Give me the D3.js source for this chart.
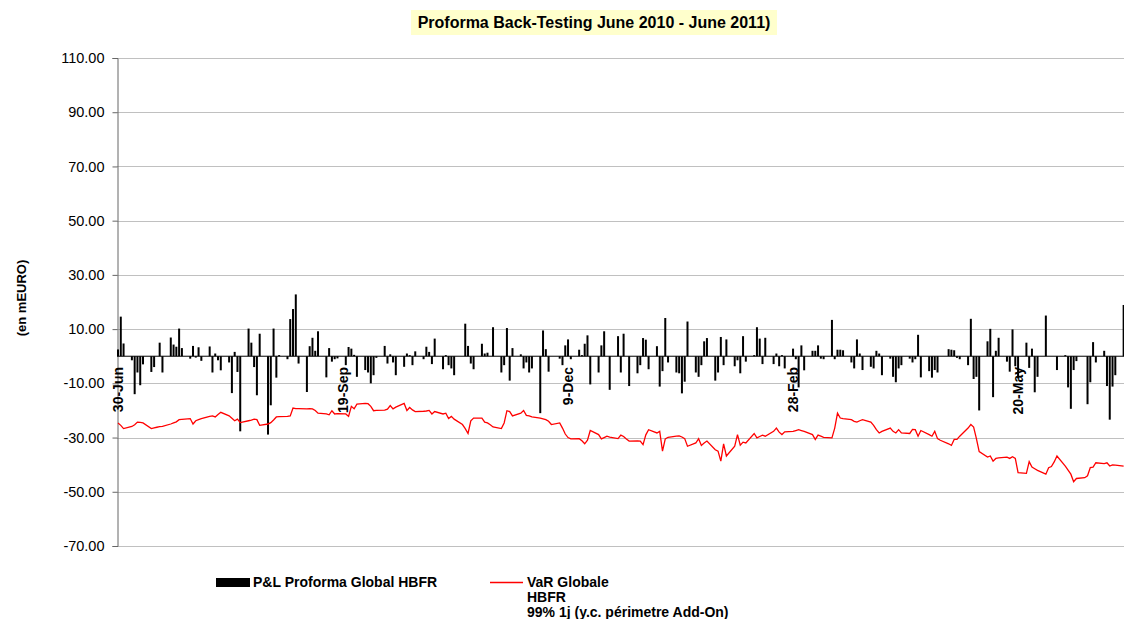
<!DOCTYPE html>
<meta charset="utf-8">
<style>
body { margin: 0; background: #fff; }
text { font-family: "Liberation Sans", Arial, sans-serif; }
.grid line { stroke: #c0c0c0; stroke-width: 1px; }
.var { fill: none; stroke: #ff0000; stroke-width: 1.3px; }
</style>
<body>
<script src="https://d3js.org/d3.v7.min.js"></script>
<script>

// first trading day, weekends are skipped when building the dates
var startDay = "2010-06-30";

// daily P&L (mEUR), one value per business day, week by week
var pnl = [
  2.5, 14.6, 4.7,
  -1.5, -14, -6, -10.7, -3,
  -5.8, -4, 0, 5, -6,
  6.9, 4.3, 3.5, 10.2, 3,
  -0.9, 3.8, -0.5, 3.3, -1.7,
  3.6, -6, 1, -1.5, -5.2,
  -2.3, -13.6, 1.6, -5.8, -27.7,
  10.2, 5, -4, -14.4, 8.3,
  -28.9, -18.1, 10.2, -7.9, 0.4,
  -1.1, 13.7, 17.4, 22.8, -2.7,
  -13.2, 3.7, 6.8, 2, 9.2,
  -7.8, 3, -2, -1.1, -0.8,
  -3.3, 3.4, 2.8, 0.5, -7.6,
  -5.1, -6, -10, -7, -0.6,
  3.8, -2.7, 0.7, -2.3, -7,
  -3.9, 1, 0.4, -3.3, 1.8,
  -1.1, 3.5, 1.6, -2.9, 6.5,
  -4.8, 0.4, -3.3, -4.5, -7,
  0, 12, 3.8, -2.7, -4.8,
  4.6, 1, 1.3, 0, 10.7,
  -6, -3.3, 10.4, -9, 3,
  0.7, -4.5, -2.3, -6, -4.5,
  -21, 9.5, 2.6, -5.7, 0,
  -0.9, -3.3, 4, 6.2, -1.1,
  2.4, 0.4, 4.6, 7.7, -10.4,
  -6, 4, 9.2, 0, -12.4,
  7.4, -6, 8.3, 0, -11,
  -6.3, -3.3, 6.7, 6.1, -4.8,
  3.7, -11.2, -5.5, 14.1, -2.3,
  -6, -6.3, -13.7, -9.4, 12.8,
  -6, -7.6, -3.3, 5.5, 6.7,
  -9, -6, 7.1, -3.3, 6.2,
  -3.7, -1.5, -6.3, 7.4, -2,
  0.4, 10.7, 6.5, -2.9, 6.8,
  -2.9, 1, -3.7, 0.4, -4.5,
  2.8, -1.1, -11.5, 4, -5.2,
  2, 2, 4, -0.9, -1.1,
  13.4, -1.1, 2.4, 2.4, 2.2,
  -2.3, -4.5, 6.2, 1, -5.1,
  -3.9, -4.5, 2, 1, -7,
  -0.9, -7.6, -9.6, -4.5, -3.3,
  -0.9, -2.3, -1.1, 7.9, -7.8,
  -5.5, -7.9, -5.1, -6, 0,
  2.6, 2.4, 2.2, -0.6, -1.1,
  -3.3, 13.8, -8.4, -7.6, -20,
  5.5, 10.1, -15.1, 2, 6.8,
  -2, -5.7, 9.9, -3.7, -8.2,
  5, -4.3, 2.8, -13.3, -7.6,
  15, 0, 0, 0, -5.1,
  0.4, -11.5, -19.4, -5.1, -1.8,
  0, -17.7, -9.6, 5.2, -2.3,
  2, -11, -23.4, -11.2, -7,
  18.9
];

// VaR 99% 1 day
var varGlobale = [
  -24.6, -25.5, -26.7,
  -25.9, -25.3, -24.3, -24.4, -24.6,
  -26.7, -26.4, -26.2, -26.0, -25.9,
  -25.0, -24.6, -24.2, -23.4, -23.3,
  -23.0, -25.0, -23.8, -23.4, -23.0,
  -22.2, -22.0, -22.4, -21.5, -20.7,
  -22.0, -22.9, -23.8, -23.2, -24.5,
  -23.8, -23.6, -23.2, -23.4, -25.5,
  -25.0, -24.5, -23.5, -22.4, -22.3,
  -22.2, -22.0, -19.1, -19.3, -19.3,
  -19.4, -19.3, -19.4, -20.0, -21.0,
  -21.3, -21.6, -20.1, -21.3, -21.2,
  -21.3, -22.2, -18.5, -19.4, -17.7,
  -17.4, -17.5, -18.5, -20.1, -20.0,
  -19.9, -19.5, -18.2, -19.4, -18.8,
  -17.4, -20.0, -18.9, -19.8, -20.4,
  -20.3, -20.2, -20.0, -21.3, -20.4,
  -21.3, -21.0, -23.0, -22.2, -23.2,
  -25.2, -26.7, -28.5, -23.8, -22.8,
  -22.8, -24.3, -24.6, -25.3, -26.1,
  -26.7, -24.6, -20.1, -20.4, -22.0,
  -21.0, -20.0, -21.8, -22.0, -22.4,
  -22.8, -23.1, -23.4, -24.0, -25.2,
  -24.6, -26.5, -28.7, -30.0, -30.5,
  -30.4, -31.2, -32.3, -31.0, -27.4,
  -28.9, -30.5, -30.0, -29.5, -29.8,
  -30.4, -29.1, -29.6, -30.5, -31.3,
  -31.2, -31.3, -32.6, -29.0, -27.1,
  -28.3, -27.7, -35.0, -30.5, -29.9,
  -29.5, -29.4, -29.8, -30.4, -33.2,
  -32.0, -30.4, -32.9, -32.0, -31.3,
  -34.5, -35.0, -38.7, -32.3, -36.8,
  -33.2, -28.9, -32.8, -31.7, -32.0,
  -28.5, -30.1, -29.6, -29.1, -29.5,
  -27.7, -26.5, -28.0, -28.9, -27.9,
  -27.7, -27.4, -27.1, -27.4, -27.7,
  -28.9, -30.7, -29.1, -29.5, -29.9,
  -30.1, -26.5, -21.0, -22.8, -23.0,
  -23.4, -24.0, -24.3, -23.8, -23.4,
  -24.3, -25.5, -27.1, -28.3, -27.7,
  -26.5, -27.7, -28.3, -27.1, -28.3,
  -28.5, -27.0, -27.1, -29.5, -27.4,
  -28.9, -29.5, -27.7, -30.4, -31.0,
  -32.3, -32.9, -30.7, -30.7, -29.5,
  -26.5, -25.2, -26.1, -30.4, -35.2,
  -37.2, -36.8, -38.7, -37.7, -37.5,
  -37.2, -37.7, -37.1, -37.7, -42.9,
  -43.2, -38.9, -40.9, -41.5, -42.1,
  -43.5, -41.1, -40.7, -39.0, -36.8,
  -40.5, -42.0, -43.5, -46.3, -45.1,
  -44.8, -44.1, -41.1, -40.9, -39.3,
  -39.6, -39.3, -40.5, -40.1, -40.2,
  -40.5
];

// x axis labels
var tickDays = ["2010-06-30", "2010-09-19", "2010-12-09", "2011-02-28", "2011-05-20"];
var yTicks = [110, 90, 70, 50, 30, 10, -10, -30, -50, -70];

var width = 1124, height = 619;
var parse = d3.utcParse("%Y-%m-%d");

// build trading dates
var dates = [];
var d = parse(startDay);
while (dates.length < pnl.length) {
  var wd = d.getUTCDay();
  if (wd != 0 && wd != 6) dates.push(new Date(d));
  d = d3.utcDay.offset(d, 1);
}
var data = dates.map(function(dt, i) { return {date: dt, pnl: pnl[i], v: varGlobale[i]}; });

var svg = d3.select("body").append("svg")
    .attr("width", width)
    .attr("height", height);

var x = d3.scaleUtc()
    .domain([parse("2010-06-30"), parse("2011-06-30")])
    .range([118, 118 + 365 * 2.778]);
var y = d3.scaleLinear().domain([-70, 110]).range([546, 58]);

var left = 117;

// title
svg.append("rect")
    .attr("x", 411).attr("y", 10).attr("width", 366).attr("height", 25)
    .attr("fill", "#ffffcc");
svg.append("text")
    .attr("x", 594).attr("y", 28)
    .attr("text-anchor", "middle")
    .style("font-size", "16px").style("font-weight", "bold")
    .text("Proforma Back-Testing June 2010 - June 2011)");

// gridlines
svg.append("g").attr("class", "grid")
  .selectAll("line").data(yTicks).enter().append("line")
    .attr("x1", left).attr("x2", width)
    .attr("y1", function(t) { return Math.round(y(t)) + 0.5; })
    .attr("y2", function(t) { return Math.round(y(t)) + 0.5; });

// y axis (plain hyphen for negatives, like the original)
var yAxis = svg.append("g")
    .attr("transform", "translate(" + (left + 0.5) + ",0)")
    .call(d3.axisLeft(y).tickValues(yTicks)
      .tickFormat(function(t) { return t.toFixed(2); })
      .tickSize(5).tickPadding(8));
yAxis.select(".domain").attr("stroke", "#666");
yAxis.selectAll(".tick line").attr("stroke", "#666");
yAxis.selectAll("text")
    .style("font-family", "'Liberation Sans', Arial, sans-serif")
    .style("font-size", "14.5px").attr("fill", "#000");

svg.append("text")
    .attr("transform", "translate(26,298) rotate(-90)")
    .attr("text-anchor", "middle")
    .style("font-size", "13px").style("font-weight", "bold")
    .text("(en mEURO)");

// P&L bars
svg.append("clipPath").attr("id", "plot")
  .append("rect").attr("x", left).attr("y", 0).attr("width", width - left).attr("height", height);

var plot = svg.append("g").attr("clip-path", "url(#plot)");

plot.selectAll(".bar").data(data).enter().append("rect")
    .attr("class", "bar")
    .attr("x", function(d) { return x(d.date) - 1; })
    .attr("width", 2)
    .attr("y", function(d) { return y(Math.max(0, d.pnl)); })
    .attr("height", function(d) { return Math.abs(y(d.pnl) - y(0)); })
    .attr("fill", "#000");

// zero axis
plot.append("line")
    .attr("x1", left).attr("x2", width)
    .attr("y1", y(0)).attr("y2", y(0))
    .attr("stroke", "#000");

// VaR line
var line = d3.line()
    .x(function(d) { return x(d.date); })
    .y(function(d) { return y(d.v); });
plot.append("path").datum(data).attr("class", "var").attr("d", line);

// date labels
var fmt = d3.utcFormat("%-d-%b");
svg.append("g").selectAll("text").data(tickDays).enter().append("text")
    .attr("transform", function(t) { return "translate(" + x(parse(t)) + ",367) rotate(-90)"; })
    .attr("dy", "0.36em")
    .attr("text-anchor", "end")
    .style("font-size", "14px").style("font-weight", "bold")
    .text(function(t) { return fmt(parse(t)); });

// legend
var leg = svg.append("g");
leg.append("rect").attr("x", 216).attr("y", 578).attr("width", 34).attr("height", 9).attr("fill", "#000");
leg.append("text").attr("x", 253).attr("y", 587)
    .style("font-size", "14px").style("font-weight", "bold")
    .text("P&L Proforma Global HBFR");
leg.append("line").attr("x1", 490).attr("x2", 523).attr("y1", 582.5).attr("y2", 582.5)
    .attr("stroke", "#ff0000").attr("stroke-width", 1.3);
var vt = leg.append("text").attr("x", 527).attr("y", 587)
    .style("font-size", "14px").style("font-weight", "bold");
["VaR Globale", "HBFR", "99% 1j (y.c. périmetre Add-On)"].forEach(function(s, i) {
  vt.append("tspan").attr("x", 527).attr("dy", i ? 15 : 0).text(s);
});

</script>
</body>
